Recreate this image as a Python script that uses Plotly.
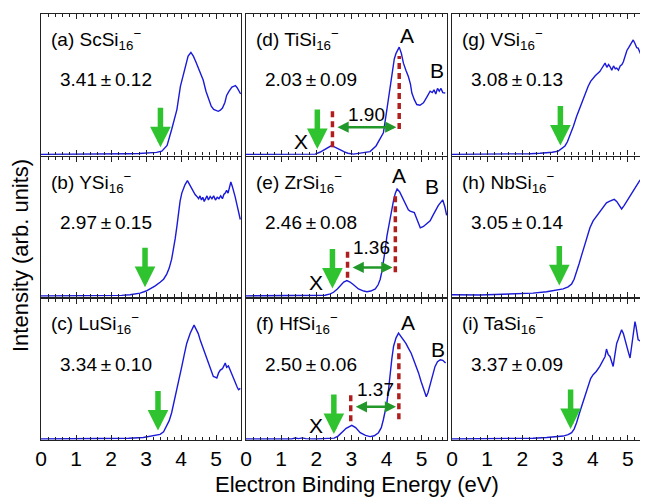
import numpy as np
import plotly.graph_objects as go

# ---------------- data ----------------
E_a = [0, 0.5, 1.0, 1.5, 2.0, 2.5, 2.8, 3.0, 3.2, 3.3, 3.45, 3.6, 3.73, 3.88, 3.98, 4.1, 4.2, 4.28, 4.35, 4.42, 4.47, 4.55, 4.63, 4.71, 4.78, 4.86, 4.93, 5.0, 5.06, 5.12, 5.18, 5.25, 5.3, 5.37, 5.45, 5.5, 5.55, 5.6, 5.65, 5.7]
I_a = [0, 0, 0, 0, 0.002, 0.004, 0.006, 0.01, 0.012, 0.014, 0.023, 0.064, 0.177, 0.319, 0.484, 0.60, 0.70, 0.726, 0.70, 0.66, 0.626, 0.58, 0.53, 0.45, 0.40, 0.343, 0.32, 0.31, 0.307, 0.315, 0.33, 0.37, 0.42, 0.45, 0.48, 0.485, 0.49, 0.475, 0.455, 0.43]

E_b = [0, 0.5, 1.0, 1.5, 2.0, 2.3, 2.54, 2.83, 3.0, 3.11, 3.25, 3.4, 3.5, 3.59, 3.66, 3.73, 3.78, 3.83, 3.88, 3.92, 3.97, 4.02, 4.07, 4.11, 4.18, 4.24, 4.30, 4.36, 4.40, 4.45, 4.50, 4.54, 4.58, 4.62, 4.66, 4.70, 4.74, 4.78, 4.83, 4.88, 4.93, 4.98, 5.03, 5.08, 5.13, 5.18, 5.22, 5.26, 5.30, 5.34, 5.38, 5.42, 5.46, 5.50, 5.54, 5.60, 5.65, 5.69]
I_b = [0, 0, 0, 0, 0.002, 0.004, 0.008, 0.02, 0.035, 0.05, 0.07, 0.098, 0.12, 0.157, 0.2, 0.264, 0.33, 0.41, 0.5, 0.6, 0.68, 0.74, 0.78, 0.80, 0.83, 0.80, 0.776, 0.75, 0.73, 0.716, 0.70, 0.72, 0.69, 0.71, 0.68, 0.70, 0.72, 0.69, 0.716, 0.70, 0.72, 0.69, 0.71, 0.70, 0.72, 0.70, 0.73, 0.74, 0.76, 0.74, 0.78, 0.82, 0.79, 0.76, 0.716, 0.65, 0.59, 0.55]

E_c = [0, 0.5, 1.0, 1.5, 2.0, 2.5, 2.92, 3.11, 3.25, 3.4, 3.5, 3.59, 3.66, 3.73, 3.8, 3.88, 3.95, 4.02, 4.09, 4.16, 4.26, 4.32, 4.37, 4.43, 4.49, 4.55, 4.60, 4.64, 4.70, 4.78, 4.85, 4.92, 4.97, 5.02, 5.07, 5.12, 5.18, 5.22, 5.26, 5.30, 5.35, 5.40, 5.46, 5.54, 5.60, 5.64, 5.69]
I_c = [0, 0, 0, 0, 0.002, 0.005, 0.01, 0.02, 0.026, 0.032, 0.05, 0.09, 0.13, 0.186, 0.26, 0.35, 0.43, 0.516, 0.6, 0.68, 0.753, 0.79, 0.81, 0.78, 0.75, 0.70, 0.665, 0.635, 0.60, 0.54, 0.48, 0.445, 0.44, 0.434, 0.47, 0.49, 0.50, 0.52, 0.54, 0.51, 0.52, 0.49, 0.45, 0.41, 0.37, 0.35, 0.36]

E_d = [0, 0.5, 1.0, 1.5, 1.8, 1.97, 2.1, 2.2, 2.3, 2.41, 2.5, 2.6, 2.7, 2.8, 2.9, 3.06, 3.2, 3.35, 3.53, 3.7, 3.8, 3.91, 4.01, 4.08, 4.15, 4.22, 4.27, 4.32, 4.36, 4.42, 4.48, 4.55, 4.62, 4.68, 4.72, 4.79, 4.86, 4.95, 5.05, 5.15, 5.24, 5.3, 5.35, 5.4, 5.45, 5.5, 5.55, 5.6, 5.67]
I_d = [0, 0, 0, 0, 0, 0.002, 0.015, 0.03, 0.045, 0.059, 0.055, 0.045, 0.03, 0.018, 0.008, 0.002, 0.006, 0.01, 0.02, 0.06, 0.10, 0.154, 0.32, 0.45, 0.58, 0.68, 0.72, 0.75, 0.764, 0.72, 0.65, 0.60, 0.555, 0.50, 0.437, 0.39, 0.355, 0.35, 0.367, 0.41, 0.45, 0.44, 0.46, 0.43, 0.47, 0.45, 0.47, 0.44, 0.437]

E_e = [0, 0.5, 1.0, 1.5, 2.0, 2.25, 2.4, 2.49, 2.6, 2.68, 2.78, 2.87, 2.96, 3.06, 3.2, 3.35, 3.44, 3.55, 3.68, 3.76, 3.82, 3.87, 3.91, 3.96, 4.01, 4.05, 4.10, 4.15, 4.20, 4.25, 4.30, 4.37, 4.44, 4.50, 4.57, 4.62, 4.67, 4.73, 4.79, 4.85, 4.90, 4.96, 5.05, 5.15, 5.24, 5.32, 5.40, 5.47, 5.53, 5.60, 5.66, 5.71]
I_e = [0, 0, 0, 0, 0.002, 0.005, 0.015, 0.026, 0.05, 0.074, 0.1, 0.11, 0.10, 0.08, 0.05, 0.035, 0.03, 0.035, 0.05, 0.08, 0.12, 0.18, 0.24, 0.33, 0.43, 0.49, 0.54, 0.61, 0.69, 0.74, 0.77, 0.75, 0.716, 0.68, 0.645, 0.62, 0.61, 0.605, 0.6, 0.56, 0.52, 0.49, 0.50, 0.52, 0.54, 0.58, 0.62, 0.65, 0.67, 0.69, 0.64, 0.58]

E_f = [0, 0.5, 1.0, 1.3, 1.4, 1.5, 1.6, 1.7, 2.0, 2.3, 2.51, 2.62, 2.72, 2.85, 3.01, 3.12, 3.25, 3.4, 3.53, 3.65, 3.77, 3.85, 3.91, 3.96, 4.01, 4.06, 4.10, 4.15, 4.20, 4.27, 4.34, 4.41, 4.48, 4.55, 4.62, 4.70, 4.77, 4.84, 4.91, 4.98, 5.05, 5.13, 5.18, 5.24, 5.31, 5.38, 5.45, 5.53, 5.60, 5.68]
I_f = [0, 0, 0, 0, 0.006, 0.002, 0.007, 0.002, 0, 0, 0.005, 0.02, 0.044, 0.075, 0.096, 0.08, 0.044, 0.025, 0.016, 0.022, 0.044, 0.08, 0.138, 0.19, 0.257, 0.36, 0.47, 0.57, 0.66, 0.72, 0.753, 0.73, 0.706, 0.68, 0.647, 0.61, 0.564, 0.52, 0.47, 0.41, 0.35, 0.30, 0.33, 0.387, 0.46, 0.516, 0.55, 0.564, 0.56, 0.54]

E_g = [0, 0.5, 1.0, 1.5, 2.0, 2.22, 2.5, 2.69, 2.85, 3.02, 3.12, 3.21, 3.28, 3.35, 3.45, 3.54, 3.63, 3.73, 3.80, 3.87, 3.94, 4.01, 4.07, 4.13, 4.20, 4.25, 4.30, 4.35, 4.40, 4.45, 4.49, 4.54, 4.59, 4.64, 4.68, 4.73, 4.78, 4.83, 4.87, 4.92, 4.97, 5.02, 5.06, 5.10, 5.15, 5.20, 5.25, 5.29, 5.34, 5.39, 5.44, 5.48, 5.53, 5.57]
I_g = [0, 0, 0, 0, 0.003, 0.005, 0.008, 0.01, 0.015, 0.023, 0.04, 0.06, 0.09, 0.13, 0.2, 0.27, 0.33, 0.39, 0.44, 0.485, 0.52, 0.544, 0.56, 0.575, 0.59, 0.61, 0.63, 0.65, 0.62, 0.64, 0.626, 0.60, 0.63, 0.61, 0.615, 0.60, 0.63, 0.64, 0.66, 0.70, 0.74, 0.76, 0.78, 0.80, 0.815, 0.79, 0.76, 0.757, 0.72, 0.697, 0.67, 0.65, 0.626, 0.57]

E_h = [0, 0.3, 0.5, 0.8, 1.0, 1.3, 1.74, 2.0, 2.3, 2.69, 2.9, 3.16, 3.3, 3.40, 3.47, 3.54, 3.61, 3.68, 3.76, 3.83, 3.92, 4.01, 4.10, 4.20, 4.30, 4.39, 4.47, 4.54, 4.61, 4.68, 4.75, 4.82, 4.89, 4.96, 5.04, 5.11, 5.18, 5.25, 5.32, 5.39, 5.46, 5.53, 5.57]
I_h = [0.008, 0.006, 0.006, 0.006, 0.008, 0.01, 0.012, 0.015, 0.02, 0.03, 0.038, 0.05, 0.065, 0.086, 0.12, 0.17, 0.23, 0.29, 0.36, 0.43, 0.49, 0.54, 0.57, 0.60, 0.635, 0.67, 0.68, 0.69, 0.695, 0.68, 0.65, 0.626, 0.65, 0.68, 0.71, 0.74, 0.77, 0.80, 0.825, 0.848, 0.87, 0.895, 0.90]

E_i = [0, 0.5, 1.0, 1.5, 2.0, 2.3, 2.69, 2.9, 3.16, 3.3, 3.40, 3.47, 3.54, 3.63, 3.73, 3.80, 3.87, 3.94, 4.01, 4.10, 4.20, 4.28, 4.35, 4.39, 4.44, 4.49, 4.53, 4.58, 4.63, 4.68, 4.72, 4.77, 4.82, 4.87, 4.91, 4.96, 5.01, 5.06, 5.11, 5.17, 5.20, 5.23, 5.26, 5.29, 5.34, 5.39, 5.43, 5.48, 5.53, 5.57]
I_i = [0, 0, 0, 0, 0.003, 0.005, 0.01, 0.014, 0.02, 0.03, 0.044, 0.07, 0.115, 0.19, 0.27, 0.33, 0.386, 0.43, 0.457, 0.48, 0.516, 0.55, 0.587, 0.64, 0.60, 0.587, 0.55, 0.516, 0.60, 0.68, 0.706, 0.74, 0.777, 0.75, 0.706, 0.66, 0.62, 0.576, 0.68, 0.80, 0.835, 0.80, 0.74, 0.706, 0.70, 0.69, 0.68, 0.66, 0.61, 0.58]

panel_letters = ["a", "b", "c", "d", "e", "f", "g", "h", "i"]
species = ["ScSi", "YSi", "LuSi", "TiSi", "ZrSi", "HfSi", "VSi", "NbSi", "TaSi"]
ade = [3.41, 2.97, 3.34, 2.03, 2.46, 2.50, 3.08, 3.05, 3.37]
ade_err = [0.12, 0.15, 0.10, 0.09, 0.08, 0.06, 0.13, 0.14, 0.09]
energies = [E_a, E_b, E_c, E_d, E_e, E_f, E_g, E_h, E_i]
intensities = [I_a, I_b, I_c, I_d, I_e, I_f, I_g, I_h, I_i]

# X-A gaps for TiSi16-, ZrSi16-, HfSi16-
peak_X = [2.46, 2.89, 2.98]
peak_A = [4.36, 4.25, 4.35]
gap_XA = [1.90, 1.36, 1.37]

tick_vals = [0, 1, 2, 3, 4, 5]
tick_text = ["0", "1", "2", "3", "4", "5"]

# ---------------- layout geometry ----------------
# the page body adds an 8px offset; geometry below is in page pixels
OFF = 8
W, H = 648 - OFF, 497 - OFF
ML, MR, MT, MB = 41 - OFF, 0, 14 - OFF, 57
PW, PH = W - ML - MR, H - MT - MB

col_px = [(41, 241), (246, 447), (452, 648)]
row_px = [(14, 155.5), (157, 297), (298.5, 440)]
xmax = [5.71, 5.72, 5.57]

def px_x(p):
    return (p - OFF - ML) / PW

def px_y(p):
    return (H - MB - (p - OFF)) / PH

def xd(p0, p1):
    return [px_x(p0), min(1.0, px_x(p1))]

def yd(p0, p1):
    return [px_y(p1), px_y(p0)]

FONT = "Liberation Sans, Arial, sans-serif"
BLUE = "#1a1ad8"
GREEN = "#2fc42f"
DGREEN = "#23982a"
RED = "#b01e1e"

fig = go.Figure()
annotations = []
shapes = []

for k in range(9):
    col, row = k // 3, k % 3
    n = k + 1
    xa = "x" if n == 1 else f"x{n}"
    ya = "y" if n == 1 else f"y{n}"
    xl = "xaxis" if n == 1 else f"xaxis{n}"
    yl = "yaxis" if n == 1 else f"yaxis{n}"
    fig.add_trace(go.Scatter(x=energies[k], y=intensities[k], mode="lines",
                             line=dict(color=BLUE, width=1.4),
                             xaxis=xa, yaxis=ya, showlegend=False,
                             hoverinfo="skip"))
    fig.layout[xl] = dict(
        domain=xd(*col_px[col]), range=[0, xmax[col]], anchor=ya,
        showline=True, linecolor="#222", linewidth=1.3, mirror="allticks",
        ticks="inside", ticklen=5, tickwidth=1, tickcolor="#222",
        tickvals=tick_vals, ticktext=tick_text,
        minor=dict(dtick=0.2, tick0=0, ticks="inside", ticklen=3, tickcolor="#222", showgrid=False),
        showgrid=False, zeroline=False,
        showticklabels=(row == 2),
        tickfont=dict(family=FONT, size=21, color="black"),
        fixedrange=True,
    )
    fig.layout[yl] = dict(
        domain=yd(*row_px[row]), range=[-0.008, 1.0], anchor=xa,
        showline=True, linecolor="#222", linewidth=1.3, mirror=True,
        ticks="", showticklabels=False, showgrid=False, zeroline=False,
        fixedrange=True,
    )
    xdom = f"{xa} domain"
    ydom = f"{ya} domain"
    annotations.append(dict(
        x=0.04, y=0.82, xref=xdom, yref=ydom, xanchor="left", yanchor="middle",
        text=f"({panel_letters[k]}) {species[k]}<sub>16</sub><sup>\u2212</sup>",
        showarrow=False, font=dict(family=FONT, size=19, color="black")))
    annotations.append(dict(
        x=0.085, y=0.535, xref=xdom, yref=ydom, xanchor="left", yanchor="middle",
        text=f"{ade[k]:.2f}\u2009\u00b1\u2009{ade_err[k]:.2f}",
        showarrow=False, font=dict(family=FONT, size=19, color="black")))
    # green ADE arrow
    tip = float(np.interp(ade[k], energies[k], intensities[k])) + 0.03
    annotations.append(dict(
        x=ade[k], y=tip, xref=xa, yref=ya, ax=0, ay=-41, axref="pixel", ayref="pixel",
        text="", showarrow=True, arrowhead=2, arrowsize=0.75, arrowwidth=5.5,
        arrowcolor=GREEN))

# X-A annotations for column 2
xa_top = [(0.32, 0.05, 0.70, 0.18), (0.34, 0.13, 0.74, 0.17), (0.31, 0.125, 0.70, 0.14)]
arrow_y = [0.194, 0.205, 0.228]
gap_lbl_y = [0.285, 0.35, 0.35]
X_lbl = [(1.56, 0.095), (1.99, 0.10), (1.99, 0.096)]
A_lbl = [(4.58, 0.85), (4.34, 0.87), (4.62, 0.83)]
B_lbl = [(5.44, 0.60), (5.29, 0.79), (5.47, 0.635)]
for j in range(3):
    n = 4 + j
    xa, ya = f"x{n}", f"y{n}"
    xt, xb, at, ab = xa_top[j]
    shapes.append(dict(type="line", xref=xa, yref=ya, x0=peak_X[j], x1=peak_X[j], y0=xb, y1=xt,
                       line=dict(color=RED, width=3.5, dash="6px,4px")))
    shapes.append(dict(type="line", xref=xa, yref=ya, x0=peak_A[j], x1=peak_A[j], y0=ab, y1=at,
                       line=dict(color=RED, width=3.5, dash="6px,4px")))
    annotations.append(dict(
        x=peak_A[j] - 0.08, y=arrow_y[j], ax=peak_X[j] + 0.1, ay=arrow_y[j],
        xref=xa, yref=ya, axref=xa, ayref=ya, text="", showarrow=True,
        arrowhead=2, arrowside="end+start", arrowsize=0.9, arrowwidth=2.5, arrowcolor=DGREEN))
    annotations.append(dict(
        x=(peak_X[j] + peak_A[j]) / 2 + 0.01, y=gap_lbl_y[j], xref=xa, yref=ya,
        text=f"{gap_XA[j]:.2f}", showarrow=False, font=dict(family=FONT, size=19, color="black")))
    for (lx, ly), t in ((X_lbl[j], "X"), (A_lbl[j], "A"), (B_lbl[j], "B")):
        annotations.append(dict(x=lx, y=ly, xref=xa, yref=ya, text=t, showarrow=False,
                                font=dict(family=FONT, size=21, color="black")))

# axis titles
annotations.append(dict(x=px_x(356.5), y=px_y(484), xref="paper", yref="paper",
                        text="Electron Binding Energy (eV)", showarrow=False,
                        xanchor="center", yanchor="middle",
                        font=dict(family=FONT, size=22, color="black")))
annotations.append(dict(x=px_x(20), y=px_y(256), xref="paper", yref="paper",
                        text="Intensity (arb. units)", showarrow=False, textangle=-90,
                        xanchor="center", yanchor="middle",
                        font=dict(family=FONT, size=22, color="black")))

fig.update_layout(
    width=W, height=H, margin=dict(l=ML, r=MR, t=MT, b=MB, pad=0),
    paper_bgcolor="white", plot_bgcolor="white",
    annotations=annotations, shapes=shapes, showlegend=False,
)
fig.write_html("out.html")
